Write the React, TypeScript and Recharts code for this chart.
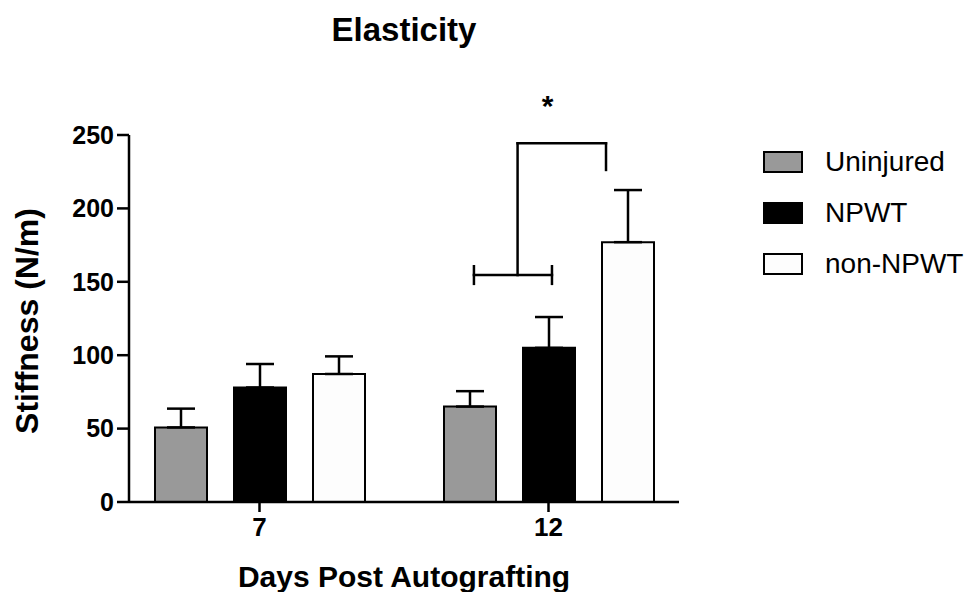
import React from 'react';
import {
  BarChart,
  Bar,
  XAxis,
  YAxis,
  ErrorBar,
  Legend,
  ReferenceLine,
  ReferenceDot
} from 'recharts';

const days = ['7', '12'];
const dayPos = [0.5, 1.5];
const uninjured = [50.8, 65];
const uninjuredSem = [12.8, 10.5];
const npwt = [78, 105];
const npwtSem = [16, 21];
const nonNpwt = [87.2, 177];
const nonNpwtSem = [12, 35.5];
const yTicks = [0, 50, 100, 150, 200, 250];

const seriesNames = ['Uninjured', 'NPWT', 'non-NPWT'];
const seriesFills = ['#999999', '#000000', '#fdfdfd'];

// significance bracket, x in category-band units (0..2) on a hidden axis, y in N/m
const bracketSegments = [
  [[1.242, 154.6], [1.512, 154.6]],
  [[1.242, 148.6], [1.242, 160.6]],
  [[1.512, 148.6], [1.512, 160.6]],
  [[1.393, 154.6], [1.393, 244.3]],
  [[1.393, 244.3], [1.699, 244.3]],
  [[1.699, 244.3], [1.699, 226.2]]
];
const starPos = [1.497, 270];

const data = days.map((d, i) => ({
  day: d,
  pos: dayPos[i],
  Uninjured: uninjured[i],
  uninjuredErr: [0, uninjuredSem[i]],
  NPWT: npwt[i],
  npwtErr: [0, npwtSem[i]],
  'non-NPWT': nonNpwt[i],
  nonNpwtErr: [0, nonNpwtSem[i]]
}));
const errKeys = ['uninjuredErr', 'npwtErr', 'nonNpwtErr'];

const axisPad = { left: -14, right: -14 };

const renderLegend = () => (
  <div>
    {seriesNames.map((name, i) => (
      <div key={name} style={{ display: 'flex', alignItems: 'center', height: 51 }}>
        <div
          style={{
            width: 40,
            height: 22,
            boxSizing: 'border-box',
            border: '2px solid #000',
            background: seriesFills[i],
            marginRight: 22
          }}
        />
        <span style={{ fontSize: 28, color: '#000' }}>{name}</span>
      </div>
    ))}
  </div>
);

const YLabel = () => (
  <text
    x={38}
    y={321}
    transform="rotate(-90 38 321)"
    textAnchor="middle"
    fontSize={32}
    fontWeight="bold"
    fill="#000"
  >
    Stiffness (N/m)
  </text>
);

export default function App() {
  return (
    <div
      style={{
        position: 'absolute',
        left: 0,
        top: 0,
        width: 974,
        height: 592,
        background: '#fff',
        fontFamily: '"Liberation Sans", Arial, sans-serif'
      }}
    >
      <div
        style={{
          position: 'absolute',
          left: 0,
          top: 13,
          width: 808,
          textAlign: 'center',
          fontSize: 33,
          fontWeight: 'bold',
          lineHeight: 1
        }}
      >
        Elasticity
      </div>
      <BarChart
        width={974}
        height={592}
        data={data}
        margin={{ top: 135, right: 84, bottom: 0, left: 0 }}
        barGap={27}
        barSize={52}
      >
        <XAxis
          dataKey="day"
          height={90}
          interval={0}
          padding={axisPad}
          tickSize={10}
          tickMargin={6}
          axisLine={{ stroke: '#000', strokeWidth: 2.5 }}
          tickLine={{ stroke: '#000', strokeWidth: 2.5 }}
          tick={{ fontSize: 26, fontWeight: 'bold', fill: '#000' }}
          label={{
            value: 'Days Post Autografting',
            position: 'insideBottom',
            offset: 5,
            fontSize: 30,
            fontWeight: 'bold',
            fill: '#000'
          }}
        />
        <XAxis
          xAxisId="pos"
          dataKey="pos"
          type="number"
          domain={[0, 2]}
          allowDataOverflow
          hide
          padding={axisPad}
        />
        <YAxis
          width={129}
          domain={[0, 250]}
          ticks={yTicks}
          interval={0}
          tickSize={12}
          tickMargin={3}
          axisLine={{ stroke: '#000', strokeWidth: 2.5 }}
          tickLine={{ stroke: '#000', strokeWidth: 2.5 }}
          tick={{ fontSize: 25, fontWeight: 'bold', fill: '#000' }}
          label={{ content: () => <YLabel /> }}
        />
        <Legend
          layout="vertical"
          align="right"
          verticalAlign="top"
          content={renderLegend}
          wrapperStyle={{ left: 763, top: 136, right: 'auto', width: 211 }}
        />
        {seriesNames.map((name, i) => (
          <Bar
            key={name}
            dataKey={name}
            fill={seriesFills[i]}
            stroke="#000"
            strokeWidth={2}
            isAnimationActive={false}
          >
            <ErrorBar dataKey={errKeys[i]} width={14} stroke="#000" strokeWidth={2.5} direction="y" />
          </Bar>
        ))}
        {bracketSegments.map((seg, i) => (
          <ReferenceLine
            key={i}
            xAxisId="pos"
            segment={[
              { x: seg[0][0], y: seg[0][1] },
              { x: seg[1][0], y: seg[1][1] }
            ]}
            stroke="#000"
            strokeWidth={2.5}
            strokeLinecap="square"
            ifOverflow="visible"
          />
        ))}
        <ReferenceDot
          xAxisId="pos"
          x={starPos[0]}
          y={starPos[1]}
          r={0}
          fill="none"
          stroke="none"
          ifOverflow="visible"
          label={{ value: '*', position: 'center', fontSize: 30, fontWeight: 'bold', fill: '#000' }}
        />
      </BarChart>
    </div>
  );
}
